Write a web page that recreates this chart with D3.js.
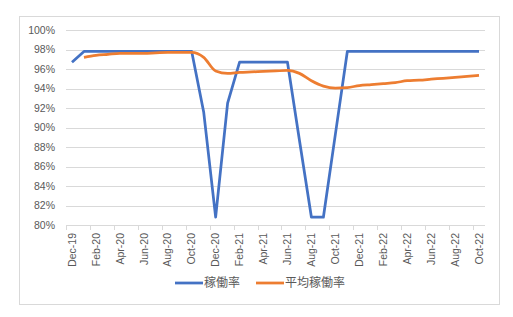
<!DOCTYPE html>
<html>
<head>
<meta charset="utf-8">
<script src="https://cdn.jsdelivr.net/npm/d3@7"></script>
<style>
  body { margin: 0; background: #fff; }
  text { font-family: "Noto Sans CJK JP", "Liberation Sans", sans-serif; fill: #595959; }
</style>
</head>
<body>
<script>
// data
var months = ["Dec-19","Jan-20","Feb-20","Mar-20","Apr-20","May-20","Jun-20","Jul-20","Aug-20","Sep-20","Oct-20","Nov-20",
  "Dec-20","Jan-21","Feb-21","Mar-21","Apr-21","May-21","Jun-21","Jul-21","Aug-21","Sep-21","Oct-21","Nov-21",
  "Dec-21","Jan-22","Feb-22","Mar-22","Apr-22","May-22","Jun-22","Jul-22","Aug-22","Sep-22","Oct-22"];

var rate = [96.7, 97.8, 97.8, 97.8, 97.8, 97.8, 97.8, 97.8, 97.8, 97.8, 97.8, 91.6,
  80.8, 92.5, 96.7, 96.7, 96.7, 96.7, 96.7, 88.7, 80.8, 80.8, 89.3, 97.8,
  97.8, 97.8, 97.8, 97.8, 97.8, 97.8, 97.8, 97.8, 97.8, 97.8, 97.8];

var avgRate = [null, 97.2, 97.4, 97.5, 97.6, 97.6, 97.6, 97.65, 97.7, 97.7, 97.7, 97.2,
  95.8, 95.55, 95.65, 95.7, 95.75, 95.8, 95.85, 95.55, 94.8, 94.25, 94.05, 94.1,
  94.3, 94.4, 94.5, 94.6, 94.8, 94.85, 94.95, 95.05, 95.15, 95.25, 95.35];

var yTicks = [80, 82, 84, 86, 88, 90, 92, 94, 96, 98, 100];
var seriesNames = ["稼働率", "平均稼働率"];
var colors = ["#4472C4", "#ED7D31"];

var W = 513, H = 317;
var plotLeft = 66, plotRight = 485, plotTop = 30, plotBottom = 225;

var svg = d3.select("body").append("svg")
  .attr("width", W)
  .attr("height", H);

// chart border
svg.append("rect")
  .attr("x", 19.5).attr("y", 16.5)
  .attr("width", 480).attr("height", 288)
  .attr("fill", "#fff")
  .attr("stroke", "#D9D9D9");

var x = d3.scaleBand()
  .domain(months)
  .range([plotLeft, plotRight]);

var y = d3.scaleLinear()
  .domain([80, 100])
  .range([plotBottom, plotTop]);

// gridlines
svg.append("g")
  .selectAll("line")
  .data(yTicks)
  .enter()
  .append("line")
  .attr("x1", plotLeft).attr("x2", plotRight)
  .attr("y1", d => Math.round(y(d)) + 0.5)
  .attr("y2", d => Math.round(y(d)) + 0.5)
  .attr("stroke", "#D9D9D9");

// y labels
svg.append("g")
  .selectAll("text")
  .data(yTicks)
  .enter()
  .append("text")
  .attr("x", 55)
  .attr("y", d => y(d))
  .attr("dy", "0.35em")
  .attr("text-anchor", "end")
  .style("font-family", "'Liberation Sans', sans-serif")
  .style("font-size", "10.5px")
  .text(d => d + "%");

// x tick marks every 2 months
var tickMonths = months.filter((d, i) => i % 2 === 0);
svg.append("g")
  .selectAll("line")
  .data(tickMonths)
  .enter()
  .append("line")
  .attr("x1", d => Math.round(x(d)) + 0.5)
  .attr("x2", d => Math.round(x(d)) + 0.5)
  .attr("y1", plotBottom).attr("y2", plotBottom + 5)
  .attr("stroke", "#D9D9D9");

// x labels
svg.append("g")
  .selectAll("text")
  .data(tickMonths)
  .enter()
  .append("text")
  .attr("transform", d => "translate(" + (x(d) + x.bandwidth() / 2) + "," + (plotBottom + 8) + ") rotate(-90)")
  .attr("dy", "0.35em")
  .attr("text-anchor", "end")
  .style("font-family", "'Liberation Sans', sans-serif")
  .style("font-size", "10.5px")
  .text(d => d);

var cx = (d, i) => x(months[i]) + x.bandwidth() / 2;

// blue line
svg.append("path")
  .datum(rate)
  .attr("fill", "none")
  .attr("stroke", colors[0])
  .attr("stroke-width", 2.75)
  .attr("stroke-linejoin", "round")
  .attr("d", d3.line().x(cx).y(d => y(d)));

// orange smoothed line
svg.append("path")
  .datum(avgRate)
  .attr("fill", "none")
  .attr("stroke", colors[1])
  .attr("stroke-width", 2.75)
  .attr("stroke-linejoin", "round")
  .attr("d", d3.line()
    .defined(d => d != null)
    .x(cx).y(d => y(d))
    .curve(d3.curveMonotoneX));

// legend
var legendX = [175, 256];
var legend = svg.append("g");
seriesNames.forEach((name, i) => {
  legend.append("line")
    .attr("x1", legendX[i]).attr("x2", legendX[i] + 28)
    .attr("y1", 283).attr("y2", 283)
    .attr("stroke", colors[i])
    .attr("stroke-width", 2.75);
  legend.append("text")
    .attr("x", legendX[i] + 29)
    .attr("y", 283)
    .attr("dy", "0.35em")
    .style("font-size", "12px")
    .text(name);
});
</script>
</body>
</html>
